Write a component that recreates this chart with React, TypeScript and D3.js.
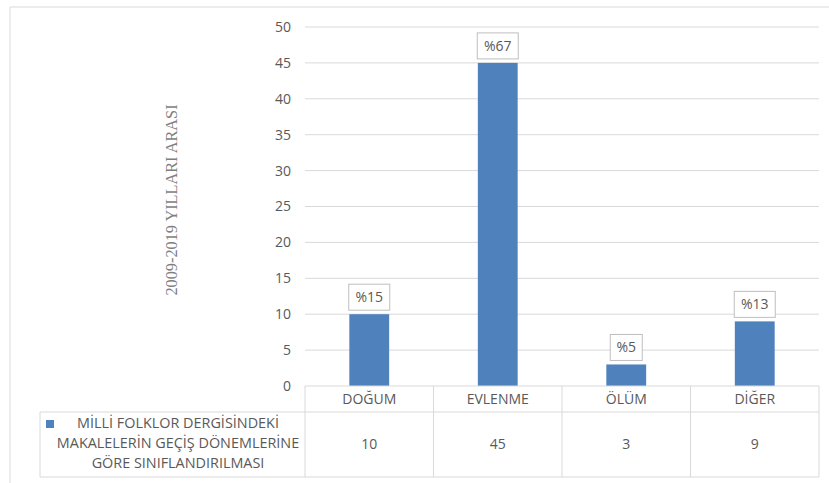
import React from "react";
import * as d3 from "d3";

const categories = ["DOĞUM", "EVLENME", "ÖLÜM", "DİĞER"];
const values = [10, 45, 3, 9];
const percentLabels = ["%15", "%67", "%5", "%13"];
const yTicks = [0, 5, 10, 15, 20, 25, 30, 35, 40, 45, 50];
const legendLines = ["MİLLİ FOLKLOR DERGİSİNDEKİ", "MAKALELERİN GEÇİŞ DÖNEMLERİNE", "GÖRE SINIFLANDIRILMASI"];
const yTitle = "2009-2019 YILLARI ARASI";

const W = 829, H = 483;
const plotL = 305, plotR = 819, plotT = 27, plotB = 386;
const headerB = 412, tableB = 477, legendL = 40;
const grid = "#d9d9d9";
const txt = "#595959";
const barColor = "#4F81BD";
const font = "'Open Sans', sans-serif";

export default function App() {
  const x = d3.scaleBand<string>().domain(categories).range([plotL, plotR]).paddingInner(0).paddingOuter(0);
  const y = d3.scaleLinear().domain([0, 50]).range([plotB, plotT]);
  const bw = x.bandwidth() * 0.31;
  return (
    <svg width={W} height={H} style={{ position: "absolute", left: 0, top: 0 }}>
      <rect x={0} y={0} width={W} height={H} fill="#fff" />
      <line x1={10} y1={7} x2={W} y2={7} stroke={grid} />
      <line x1={10} y1={7} x2={10} y2={H} stroke={grid} />
      {yTicks.map((t) => (
        <g key={t}>
          {t > 0 && <line x1={plotL} x2={plotR} y1={y(t)} y2={y(t)} stroke={grid} />}
          <text x={291} y={y(t)} dy="0.35em" textAnchor="end" fontFamily={font} fontSize={14} fill={txt}>{t}</text>
        </g>
      ))}
      <text transform={`translate(171,200) rotate(-90)`} textAnchor="middle" dominantBaseline="central" fontFamily="'Liberation Serif', serif" fontSize={16.3} fill="#7f7f7f">{yTitle}</text>
      {categories.map((c, i) => {
        const cx = (x(c) as number) + x.bandwidth() / 2;
        const top = y(values[i]);
        const lw = percentLabels[i].length * 9 + 14;
        return (
          <g key={c}>
            <rect x={cx - bw / 2} y={top} width={bw} height={plotB - top} fill={barColor} />
            <rect x={cx - lw / 2} y={top - 30} width={lw} height={26} fill="#fff" stroke="#bfbfbf" />
            <text x={cx} y={top - 17} dy="0.35em" textAnchor="middle" fontFamily={font} fontSize={14} fill={txt}>{percentLabels[i]}</text>
            <text x={cx} y={(plotB + headerB) / 2} dy="0.35em" textAnchor="middle" fontFamily={font} fontSize={14} fill={txt}>{c}</text>
            <text x={cx} y={(headerB + tableB) / 2} dy="0.35em" textAnchor="middle" fontFamily={font} fontSize={14} fill={txt}>{values[i]}</text>
          </g>
        );
      })}
      <line x1={plotL} x2={plotR} y1={plotB} y2={plotB} stroke={grid} />
      <line x1={legendL} x2={plotR} y1={headerB} y2={headerB} stroke={grid} />
      <line x1={legendL} x2={plotR} y1={tableB} y2={tableB} stroke={grid} />
      <line x1={legendL} x2={legendL} y1={headerB} y2={tableB} stroke={grid} />
      {[plotL, ...categories.map((c) => (x(c) as number) + x.bandwidth())].map((v, i) => (
        <line key={i} x1={v} x2={v} y1={plotB} y2={tableB} stroke={grid} />
      ))}
      <rect x={46} y={420} width={8} height={8} fill={barColor} />
      {legendLines.map((l, i) => (
        <text key={i} x={178} y={423 + i * 20} dy="0.35em" textAnchor="middle" fontFamily={font} fontSize={14.4} fill={txt}>{l}</text>
      ))}
    </svg>
  );
}
